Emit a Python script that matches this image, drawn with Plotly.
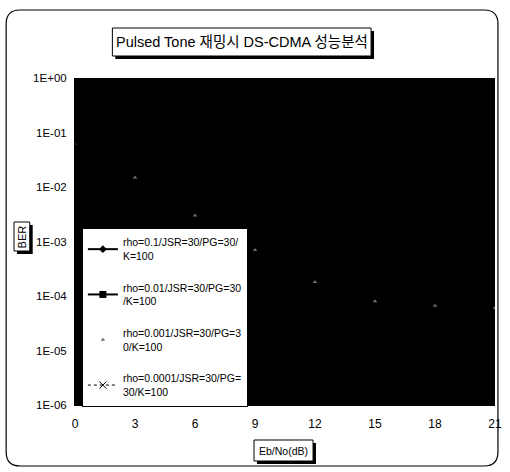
import plotly.graph_objects as go

ebno = [0, 3, 6, 9, 12, 15, 18, 21]
names = [
    "rho=0.1/JSR=30/PG=30/<br>K=100",
    "rho=0.01/JSR=30/PG=30<br>/K=100",
    "rho=0.001/JSR=30/PG=3<br>0/K=100",
    "rho=0.0001/JSR=30/PG=<br>30/K=100",
]
ber_rho_01 = [0.38, 0.2, 0.1, 0.05, 0.03, 0.018, 0.01, 0.0063]
ber_rho_001 = [0.065, 0.03, 0.012, 0.005, 0.0025, 0.0014, 0.0009, 0.00063]
ber_rho_0001 = [0.06, 0.015, 0.003, 0.0007, 0.00018, 0.00008, 0.000066, 0.00006]
ber_rho_00001 = [0.06, 0.012, 0.002, 0.0003, 0.00005, 0.00002, 0.000012, 0.0000093]

ytickvals = [1, 1e-1, 1e-2, 1e-3, 1e-4, 1e-5, 1e-6]
yticktext = ["1E+00", "1E-01", "1E-02", "1E-03", "1E-04", "1E-05", "1E-06"]

FONT = "Liberation Sans, Arial, sans-serif"

fig = go.Figure()
fig.add_trace(go.Scatter(x=ebno, y=ber_rho_01, name=names[0], mode="lines+markers",
                         line=dict(color="black", width=2),
                         marker=dict(symbol="diamond", size=6, color="black"),
                         legendgroup="a"))
fig.add_trace(go.Scatter(x=ebno, y=ber_rho_001, name=names[1], mode="lines+markers",
                         line=dict(color="black", width=2),
                         marker=dict(symbol="square", size=7, color="black"),
                         legendgroup="b"))
fig.add_trace(go.Scatter(x=ebno, y=ber_rho_0001, name=names[2], mode="markers",
                         marker=dict(symbol="triangle-up", size=4, color="#6e6e6e"),
                         legendgroup="c"))
fig.add_trace(go.Scatter(x=ebno, y=ber_rho_00001, name=names[3], mode="lines+markers",
                         line=dict(color="black", width=1, dash="dot"),
                         marker=dict(symbol="x-thin", size=7, color="black",
                                     line=dict(color="black", width=1)),
                         legendgroup="d"))

W, H = 510, 472
L, R, T, B = 75, 8, 78, 67
pw, ph = W - L - R, H - T - B


def px(x):
    return (x - L) / pw


def py(y):
    return (H - B - y) / ph


shapes = []
# outer rounded border
x0, x1, y0, y1, r = 5, 505, 10, 466, 14
path = (f"M {px(x0 + r)},{py(y0)} L {px(x1 - r)},{py(y0)} "
        f"Q {px(x1)},{py(y0)} {px(x1)},{py(y0 + r)} "
        f"L {px(x1)},{py(y1 - r)} Q {px(x1)},{py(y1)} {px(x1 - r)},{py(y1)} "
        f"L {px(x0 + r)},{py(y1)} Q {px(x0)},{py(y1)} {px(x0)},{py(y1 - r)} "
        f"L {px(x0)},{py(y0 + r)} Q {px(x0)},{py(y0)} {px(x0 + r)},{py(y0)} Z")
shapes.append(dict(type="path", xref="paper", yref="paper", path=path,
                   line=dict(color="black", width=1.2), layer="below"))


def boxed(xa, ya, xb, yb):
    # shadow then box
    shapes.append(dict(type="rect", xref="paper", yref="paper",
                       x0=px(xa + 3), x1=px(xb + 3), y0=py(yb + 3), y1=py(ya + 3),
                       fillcolor="black", line=dict(width=0), layer="above"))
    shapes.append(dict(type="rect", xref="paper", yref="paper",
                       x0=px(xa), x1=px(xb), y0=py(yb), y1=py(ya),
                       fillcolor="white", line=dict(color="black", width=1), layer="above"))


boxed(113, 28, 376, 56)
boxed(13, 222, 29, 251)
boxed(257, 440, 317, 461)

annotations = [
    dict(text="Pulsed Tone 재밍시 DS-CDMA 성능분석", x=px(245), y=py(42), xref="paper", yref="paper",
         showarrow=False, font=dict(family="Liberation Sans, Noto Sans CJK KR", size=14.5, color="black"),
         xanchor="center", yanchor="middle"),
    dict(text="BER", x=px(21), y=py(236.5), xref="paper", yref="paper", textangle=-90,
         showarrow=False, font=dict(family=FONT, size=11, color="black"),
         xanchor="center", yanchor="middle"),
    dict(text="Eb/No(dB)", x=px(287), y=py(450.5), xref="paper", yref="paper",
         showarrow=False, font=dict(family=FONT, size=10.5, color="black"),
         xanchor="center", yanchor="middle"),
]

fig.update_layout(
    width=W, height=H,
    margin=dict(l=L, r=R, t=T, b=B),
    paper_bgcolor="white",
    plot_bgcolor="black",
    font=dict(family=FONT, size=10, color="black"),
    showlegend=True,
    legend=dict(x=px(82), y=py(228), xanchor="left", yanchor="top",
                bgcolor="white", bordercolor="black", borderwidth=1,
                font=dict(family=FONT, size=10.5, color="black"),
                tracegroupgap=15, traceorder="grouped", itemwidth=30),
    shapes=shapes,
    annotations=annotations,
    xaxis=dict(range=[0, 21], tickvals=[0, 3, 6, 9, 12, 15, 18, 21], showgrid=False,
               zeroline=False, showline=True, linecolor="black", ticks="",
               ticklabelstandoff=8, tickfont=dict(size=12, family=FONT)),
    yaxis=dict(type="log", range=[-6, 0], tickvals=ytickvals, ticktext=yticktext,
               showgrid=False, zeroline=False, showline=True, linecolor="black",
               ticks="", ticklabelstandoff=5, tickfont=dict(size=11.5, family=FONT)),
)

fig.write_html("out.html", config={"displayModeBar": False},
               post_script="document.body.style.margin='0px';document.body.style.padding='0px';")
